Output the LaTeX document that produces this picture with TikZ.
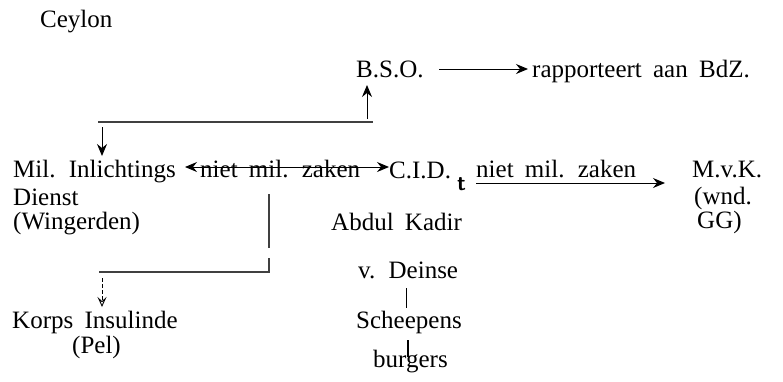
\documentclass[tikz,border=0pt]{standalone}
\usepackage{fontspec}
\setmainfont{Liberation Serif}[WordSpace=1.8]
\usetikzlibrary{arrows.meta}
\tikzset{
  txt/.style={anchor=base west, inner sep=0pt, font=\fontsize{25}{28}\selectfont},
  ln/.style={line width=1.1pt, black!75},
  tip/.tip={Stealth[length=12pt,width=10pt,inset=4pt]},
  arr/.style={line width=1pt, -tip},
  darr/.style={line width=1pt, tip-tip},
  oarr/.style={line width=0.9pt, dash pattern=on 4pt off 2pt, -{Stealth[open,length=10pt,width=9pt,inset=4pt]}},
}
\begin{document}
\begin{tikzpicture}[x=1pt,y=-1pt]
\useasboundingbox (0,0) rectangle (783,381);
% texts
\node[txt] (ceylon) at (40,27) {Ceylon};
\node[txt] (bso) at (356,77) {B.S.O.};
\node[txt] (rap) at (532,77) {rapporteert aan BdZ.};
\node[txt] (mil) at (13,177) {Mil. Inlichtings};
\node[txt] (dienst) at (13,205) {Dienst};
\node[txt] (wing) at (13,229) {(Wingerden)};
\node[txt] (lbla) at (200,177) {niet mil. zaken};
\node[txt] (cid) at (389,178) {C.I.D.};
\node[anchor=base west, inner sep=0pt, font=\fontsize{22}{22}\sffamily\bfseries] (tmark) at (457,190) {t};
\node[txt] (lblb) at (476,177) {niet mil. zaken};
\node[txt] (mvk) at (692,177) {M.v.K.};
\node[txt] (wnd) at (694,204) {(wnd.};
\node[txt] (gg) at (697,228) {GG)};
\node[txt] (abdul) at (331,230) {Abdul Kadir};
\node[txt] (deinse) at (358,278) {v. Deinse};
\node[txt] (scheep) at (356,328) {Scheepens};
\node[txt] (burg) at (373,367) {burgers};
\node[txt] (korps) at (12,328) {Korps Insulinde};
\node[txt] (pel) at (72,353) {(Pel)};
% coordinates
\coordinate (bsoA) at (439,69);
\coordinate (rapA) at (528,69);
\coordinate (hl) at (98,122);
\coordinate (hr) at (373,122);
\coordinate (upS) at (367,119);
\coordinate (upT) at (367,85);
\coordinate (dnS) at (102,127);
\coordinate (dnT) at (102,156);
\coordinate (dL) at (185,167);
\coordinate (dR) at (389,167);
\coordinate (vA) at (269,194);
\coordinate (vB) at (269,248);
\coordinate (vC) at (269,258);
\coordinate (vD) at (269,272);
\coordinate (kl) at (99,272);
\coordinate (kS) at (102,278);
\coordinate (kT) at (102,307);
\coordinate (mS) at (476,183);
\coordinate (mT) at (665,183);
\coordinate (b1a) at (406,288);
\coordinate (b1b) at (406,308);
\coordinate (b2a) at (408,340);
\coordinate (b2b) at (408,357);
% connectors
\draw[arr] (bsoA) -- (rapA);
\draw[ln] (hl) -- (hr);
\draw[arr] (upS) -- (upT);
\draw[arr] (dnS) -- (dnT);
\draw[darr] (dL) -- (dR);
\draw[ln] (vA) -- (vB);
\draw[ln] (vC) -- (vD) -- (kl);
\draw[oarr] (kS) -- (kT);
\draw[arr] (mS) -- (mT);
\draw[line width=0.8pt] (b1a) -- (b1b);
\draw[line width=1.8pt] (b2a) -- (b2b);
\end{tikzpicture}
\end{document}
